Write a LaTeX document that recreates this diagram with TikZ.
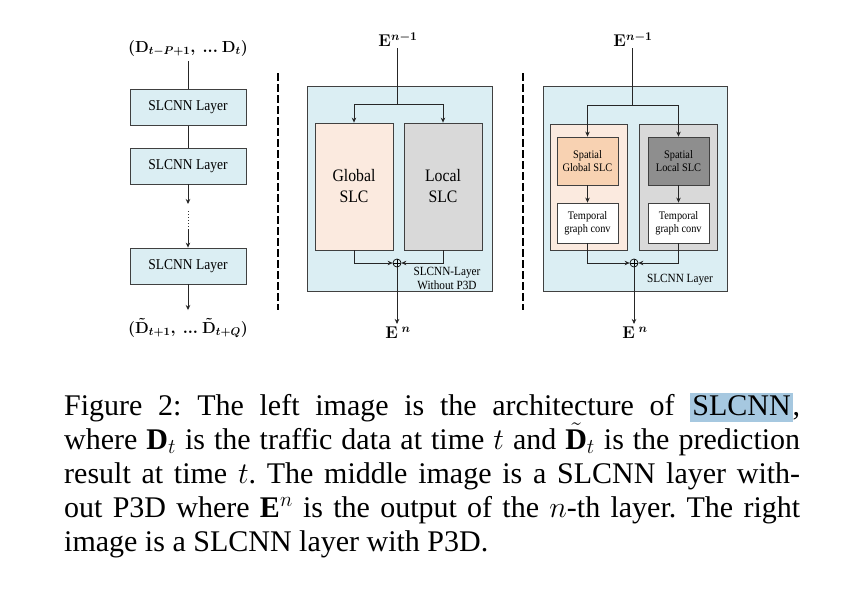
\RequirePackage{fix-cm}
\documentclass[tikz,border=0pt]{standalone}
\usepackage{fontspec}
\setmainfont{Liberation Serif}
\newfontfamily\figfont{Liberation Serif}[FakeStretch=0.9]
\usetikzlibrary{arrows.meta}
\definecolor{panelblue}{HTML}{DBEEF3}
\definecolor{peach}{HTML}{FBEADF}
\definecolor{peachdark}{HTML}{F8D2B2}
\definecolor{lgray}{HTML}{D9D9D9}
\definecolor{dgray}{HTML}{8E8E8E}
\definecolor{edgecol}{HTML}{404040}
\definecolor{hl}{HTML}{A6C8E0}
\newcommand\hlbox[1]{{\setlength{\fboxsep}{0pt}\colorbox{hl}{\hspace{2pt}\rule[-7pt]{0pt}{29pt}#1\hspace{2pt}}}}
\tikzset{
  boxnode/.style={draw=edgecol, line width=0.8pt, inner sep=0pt, align=center, font=\figfont},
  lbox/.style={boxnode, fill=panelblue, minimum width=116pt, minimum height=36pt, font=\figfont\fontsize{15}{17}\selectfont},
  panel/.style={boxnode, fill=panelblue, minimum width=185pt, minimum height=205pt},
  bigbox/.style={boxnode, minimum width=78pt, minimum height=127pt, font=\figfont\fontsize{17.5}{21}\selectfont},
  innerbox/.style={boxnode, minimum width=77pt, minimum height=126pt},
  smallbox/.style={boxnode, minimum width=61pt, font=\figfont\fontsize{11.5}{13.5}\selectfont},
  mathlbl/.style={inner sep=1pt, font=\fontsize{16}{18}\selectfont\boldmath},
  elbl/.style={inner sep=1pt, font=\fontsize{17}{19}\selectfont\boldmath},
  plus/.style={circle, draw=black, line width=0.7pt, minimum size=8pt, inner sep=0pt,
    path picture={\draw[line width=0.6pt] (path picture bounding box.north) -- (path picture bounding box.south)
      (path picture bounding box.west) -- (path picture bounding box.east);}},
  conn/.style={line width=0.8pt, draw=black!85},
  arr/.style={conn, -{Stealth[length=5pt,width=4.5pt]}},
  sep/.style={line width=1.5pt, dash pattern=on 8pt off 3pt},
  note/.style={inner sep=0pt, align=center, font=\figfont\fontsize{12.5}{14}\selectfont}
}
\begin{document}
\begin{tikzpicture}[x=1pt, y=-1pt]
\useasboundingbox[fill=white] (0,0) rectangle (853,592);

% ---------- left column ----------
\node[mathlbl] (tin) at (188,48) {$(\mathbf{D}_{t-P+1},\ ...\ \mathbf{D}_t)$};
\node[lbox] (l1) at (188,107.5) {SLCNN Layer};
\node[lbox] (l2) at (188,166) {SLCNN Layer};
\node[lbox] (l3) at (188,266) {SLCNN Layer};
\node[mathlbl] (tout) at (188,328) {$(\tilde{\mathbf{D}}_{t+1},\ ...\ \tilde{\mathbf{D}}_{t+Q})$};
\coordinate (d1) at (188,204);
\coordinate (dt) at (188,211);
\coordinate (db) at (188,229);
\draw[conn, shorten <=4pt] (tin) -- (l1);
\draw[conn] (l1) -- (l2);
\draw[arr] (l2) -- (d1);
\draw[line width=1pt, dotted, draw=black!80] (dt) -- (db);
\draw[arr] (db) -- (l3);
\draw[arr, shorten >=7pt] (l3) -- (tout);

% separators
\draw[sep] (278,73) -- (278,310);
\draw[sep] (523,73) -- (523,310);

% ---------- middle panel ----------
\node[panel] (mp) at (399.5,188.5) {};
\node[bigbox, fill=peach] (gs) at (354,186.5) {Global\\SLC};
\node[bigbox, fill=lgray] (ls) at (443,186.5) {Local\\SLC};
\node[elbl] (min) at (398,40) {$\mathbf{E}^{n-1}$};
\coordinate (mb) at (397,104);
\node[plus] (mplus) at (397,263) {};
\node[elbl] (mout) at (398,333) {$\mathbf{E}^{\;n}$};
\draw[conn] (min.south -| mb) -- (mb);
\draw[arr] (mb) -| (gs);
\draw[arr] (mb) -| (ls);
\draw[arr] (gs.south) |- (mplus);
\draw[arr] (ls.south) |- (mplus);
\draw[arr, shorten >=2pt] (mplus) -- (mplus |- mout.north);
\node[note] (mnote) at (447,278) {SLCNN-Layer\\Without P3D};

% ---------- right panel ----------
\node[panel, minimum width=184pt] (rp) at (635,188.5) {};
\node[innerbox, fill=peach] (rg) at (588.5,187) {};
\node[innerbox, fill=lgray, minimum width=78pt] (rl) at (678,187) {};
\node[smallbox, fill=peachdark, minimum height=48pt] (sg) at (587.5,161) {Spatial\\Global SLC};
\node[smallbox, fill=dgray, minimum height=48pt] (sl) at (678.5,161) {Spatial\\Local SLC};
\node[smallbox, fill=white, minimum height=40pt] (tg) at (587.5,223) {Temporal\\graph conv};
\node[smallbox, fill=white, minimum height=40pt] (tl) at (678.5,223) {Temporal\\graph conv};
\node[elbl] (rin) at (633,40) {$\mathbf{E}^{n-1}$};
\coordinate (rb) at (632,105);
\node[plus] (rplus) at (634,263) {};
\node[elbl] (rout) at (635,333) {$\mathbf{E}^{\;n}$};
\draw[conn] (rin.south -| rb) -- (rb);
\draw[arr] (rb) -| (sg);
\draw[arr] (rb) -| (sl);
\draw[arr] (sg) -- (tg);
\draw[arr] (sl) -- (tl);
\draw[arr] (tg.south) |- (rplus);
\draw[arr] (tl.south) |- (rplus);
\draw[arr, shorten >=2pt] (rplus) -- (rplus |- rout.north);
\node[note] (rnote) at (680,280) {SLCNN Layer};

% ---------- caption ----------
\node[anchor=base west, inner sep=0pt, text width=736pt, align=justify,
      font=\fontsize{30}{34}\selectfont\frenchspacing] (cap) at (64,415)
{Figure 2: The left image is the architecture of \hlbox{SLCNN},\linebreak
where $\mathbf{D}_t$ is the traffic data at time $t$ and $\tilde{\mathbf{D}}_t$ is the prediction\linebreak
result at time $t$. The middle image is a SLCNN layer with-\linebreak
out P3D where $\mathbf{E}^n$ is the output of the $n$-th layer. The right\linebreak
image is a SLCNN layer with P3D.};
\end{tikzpicture}
\end{document}
